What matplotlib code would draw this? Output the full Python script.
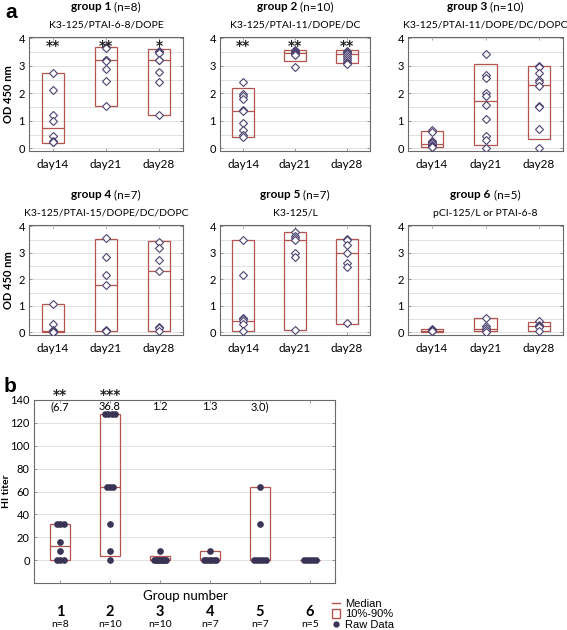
"""
plot.py
-------
OD 450 nm per group/day (panel a) and HI titer per group (panel b).
"""

import matplotlib
matplotlib.use("Agg")
import matplotlib.pyplot as plt
from matplotlib.lines import Line2D
from matplotlib.patches import Rectangle
import matplotlib.transforms as mtransforms

plt.rcParams["font.family"] = ["Lato", "DejaVu Sans"]

# ---------------------------------------------------------------- panel a data
days = ["day14", "day21", "day28"]
group_labels = ["group 1", "group 2", "group 3", "group 4", "group 5", "group 6"]
group_n = [8, 10, 10, 7, 7, 5]
group_subtitles = [
    "K3-125/PTAI-6-8/DOPE",
    "K3-125/PTAI-11/DOPE/DC",
    "K3-125/PTAI-11/DOPE/DC/DOPC",
    "K3-125/PTAI-15/DOPE/DC/DOPC",
    "K3-125/L",
    "pCI-125/L or PTAI-6-8",
]

od_day14 = [
    [2.74, 2.12, 1.22, 1.0, 0.43, 0.27, 0.24, 0.22],
    [2.4, 1.97, 1.92, 1.78, 1.38, 1.35, 0.92, 0.68, 0.47, 0.4],
    [0.65, 0.58, 0.25, 0.22, 0.18, 0.12, 0.1, 0.08, 0.06, 0.05],
    [1.06, 0.32, 0.08, 0.05, 0.03, 0.02, 0.02],
    [3.5, 2.18, 0.56, 0.5, 0.42, 0.3, 0.05],
    [0.12, 0.09, 0.07, 0.05, 0.04],
]
od_day21 = [
    [3.68, 3.64, 3.22, 3.2, 3.18, 2.9, 2.45, 1.55],
    [3.58, 3.55, 3.52, 3.5, 3.48, 3.47, 3.45, 3.42, 3.4, 2.95],
    [3.42, 2.67, 2.55, 2.0, 1.9, 1.57, 1.08, 0.45, 0.3, 0.0],
    [3.55, 2.85, 2.15, 1.8, 0.08, 0.05, 0.04],
    [3.78, 3.62, 3.55, 3.48, 3.0, 2.85, 0.1],
    [0.55, 0.25, 0.15, 0.08, 0.02],
]
od_day28 = [
    [3.55, 3.5, 3.48, 3.22, 3.2, 2.78, 2.4, 1.22],
    [3.55, 3.5, 3.45, 3.42, 3.35, 3.3, 3.22, 3.15, 3.1, 3.05],
    [3.0, 2.95, 2.75, 2.5, 2.4, 2.25, 1.52, 1.5, 0.7, 0.02],
    [3.42, 3.18, 2.72, 2.33, 0.22, 0.15, 0.05],
    [3.52, 3.48, 3.3, 3.0, 2.6, 2.45, 0.35],
    [0.42, 0.28, 0.25, 0.22, 0.05],
]
# 10%, 90% and median per group, in order day14, day21, day28
od_p10 = [
    [0.2, 1.55, 1.2],
    [0.42, 3.17, 3.12],
    [0.04, 0.13, 0.35],
    [0.03, 0.04, 0.05],
    [0.04, 0.08, 0.33],
    [0.03, 0.04, 0.05],
]
od_p90 = [
    [2.74, 3.7, 3.6],
    [2.2, 3.58, 3.56],
    [0.62, 3.05, 3.0],
    [1.06, 3.54, 3.44],
    [3.5, 3.8, 3.52],
    [0.11, 0.54, 0.4],
]
od_median = [
    [0.72, 3.21, 3.21],
    [1.35, 3.47, 3.42],
    [0.15, 1.72, 2.3],
    [0.05, 1.8, 2.33],
    [0.43, 3.48, 3.0],
    [0.06, 0.12, 0.24],
]
od_stars = [
    ["**", "**", "*"],
    ["**", "**", "**"],
    ["", "", ""],
    ["", "", ""],
    ["", "", ""],
    ["", "", ""],
]

# ---------------------------------------------------------------- panel b data
hi_groups = [1, 2, 3, 4, 5, 6]
hi_n = [8, 10, 10, 7, 7, 5]
hi_raw = [
    [32, 32, 32, 16, 8, 0, 0, 0],
    [128, 128, 128, 128, 64, 64, 64, 32, 8, 0],
    [8, 0, 0, 0, 0, 0, 0, 0, 0, 0],
    [8, 0, 0, 0, 0, 0, 0],
    [64, 32, 0, 0, 0, 0, 0],
    [0, 0, 0, 0, 0],
]
hi_p10 = [0, 4, 0, 0, 0, 0]
hi_p90 = [32, 128, 4, 8, 64, 0]
hi_median = [12, 64, 0, 0, 0, 0]
hi_means = ["(6.7", "36.8", "1.2", "1.3", "3.0)"]
hi_stars = ["**", "***", "", "", "", ""]

BOX_COLOR = "#b5534f"
POINT_COLOR = "#3b3356"
DIAMOND_EDGE = "#4d4270"
GRID_COLOR = "#dcdcdc"
SPINE_COLOR = "#6a6a6a"
STAR_COLOR = "#222222"


def spread(values, step, max_width):
    """Horizontal offsets so that equal values sit side by side."""
    offsets = []
    seen = {}
    counts = {v: values.count(v) for v in values}
    for v in values:
        m = counts[v]
        k = seen.get(v, 0)
        seen[v] = k + 1
        s = step if m < 2 else min(step, max_width / (m - 1))
        offsets.append((k - (m - 1) / 2) * s)
    return offsets


def style_axes(ax):
    for sp in ax.spines.values():
        sp.set_color(SPINE_COLOR)
        sp.set_linewidth(0.8)
    ax.tick_params(axis="both", direction="in", length=2, width=0.6,
                   color="#888888", labelsize=8, pad=3, top=True, right=True)
    ax.set_axisbelow(True)


fig = plt.figure(figsize=(5.67, 6.3), dpi=100)

W, H = 567.0, 630.0
col_x = [(29, 154), (220, 150), (408, 155)]
row_y = [(37, 151), (225, 335)]

renderer = fig.canvas.get_renderer()

for g in range(6):
    r, c = divmod(g, 3)
    x0, w = col_x[c]
    top, bot = row_y[r]
    ax = fig.add_axes([x0 / W, 1 - bot / H, w / W, (bot - top) / H])
    style_axes(ax)
    ax.set_xlim(0.55, 3.45)
    ax.set_ylim(-0.1, 4.05)
    ax.set_yticks([0, 1, 2, 3, 4])
    ax.set_yticks([0.5, 1.5, 2.5, 3.5], minor=True)
    ax.tick_params(which="minor", length=0)
    ax.grid(True, which="both", axis="y", color=GRID_COLOR, lw=0.6)
    ax.set_xticks([1, 2, 3])
    ax.set_xticklabels(days, fontsize=8.5)
    ax.tick_params(axis="x", pad=6)

    day_values = [od_day14[g], od_day21[g], od_day28[g]]
    for d in range(3):
        xpos = d + 1
        ax.bar(xpos, od_p90[g][d] - od_p10[g][d], bottom=od_p10[g][d],
               width=0.42, fill=False, edgecolor=BOX_COLOR, lw=0.9, zorder=2)
        ax.hlines(od_median[g][d], xpos - 0.21, xpos + 0.21,
                  color=BOX_COLOR, lw=0.9, zorder=2)
        vals = day_values[d]
        ax.plot([xpos] * len(vals), vals, ls="none", marker="D", ms=3.8,
                mfc="white", mec=DIAMOND_EDGE, mew=0.8, zorder=3)
        if od_stars[g][d]:
            ax.text(xpos, 3.74, od_stars[g][d], ha="center", va="center",
                    fontsize=10, fontweight="bold", family="DejaVu Sans",
                    color=STAR_COLOR)

    if c == 0:
        ax.set_ylabel("OD 450 nm", fontsize=8, fontweight="bold")
        ax.yaxis.set_label_coords(-0.095, 0.5)

    # titles: bold group label + normal (n=..), centred over the axes
    cx = (x0 + w / 2) / W
    ty = 1 - (top - 30) / H
    t1 = fig.text(0, ty, group_labels[g], fontsize=8.5, fontweight="bold",
                  ha="left", va="center")
    t2 = fig.text(0, ty, f" (n={group_n[g]})", fontsize=8.5,
                  ha="left", va="center")
    w1 = t1.get_window_extent(renderer).width / W
    w2 = t2.get_window_extent(renderer).width / W
    t1.set_x(cx - (w1 + w2) / 2)
    t2.set_x(cx - (w1 + w2) / 2 + w1)
    fig.text(cx, 1 - (top - 12) / H, group_subtitles[g], fontsize=7.5,
             ha="center", va="center")

fig.text(5 / W, 1 - 12 / H, "a", fontsize=15, fontweight="bold",
         family="Liberation Sans", ha="left", va="center")

# ---------------------------------------------------------------- panel b
axb = fig.add_axes([34 / W, 1 - 583 / H, 301 / W, 183 / H])
style_axes(axb)
axb.set_xlim(0.48, 6.5)
axb.set_ylim(-20, 140)
axb.set_yticks([0, 20, 40, 60, 80, 100, 120, 140])
axb.grid(True, axis="y", color=GRID_COLOR, lw=0.6)
axb.set_xticks(hi_groups)
axb.set_xticklabels([])
axb.set_ylabel("HI titer", fontsize=7.5, fontweight="bold")
axb.yaxis.set_label_coords(-0.075, 0.5)

for i, grp in enumerate(hi_groups):
    axb.bar(grp, hi_p90[i] - hi_p10[i], bottom=hi_p10[i], width=0.4,
            fill=False, edgecolor=BOX_COLOR, lw=0.9, zorder=2)
    axb.hlines(hi_median[i], grp - 0.2, grp + 0.2, color=BOX_COLOR,
               lw=0.9, zorder=2)
    offs = spread(hi_raw[i], 0.07, 0.24)
    axb.plot([grp + o for o in offs], hi_raw[i], ls="none", marker="o",
             ms=3.8, color=POINT_COLOR, zorder=3)
    if hi_stars[i]:
        axb.text(grp, 1.03, hi_stars[i], transform=axb.get_xaxis_transform(),
                 ha="center", va="center", fontsize=10, fontweight="bold",
                 family="DejaVu Sans", color=STAR_COLOR)
    if i < len(hi_means):
        axb.text(grp, 0.962, hi_means[i], transform=axb.get_xaxis_transform(),
                 ha="center", va="center", fontsize=8)

trans = mtransforms.blended_transform_factory(axb.transData, axb.transAxes)
axb.text(3.5, -0.07, "Group number", transform=trans, ha="center",
         va="center", fontsize=9.5)
for i, grp in enumerate(hi_groups):
    axb.text(grp, -0.16, str(grp), transform=trans, ha="center",
             va="center", fontsize=10.5, fontweight="bold")
    axb.text(grp, -0.228, f"n={hi_n[i]}", transform=trans, ha="center",
             va="center", fontsize=7.5)

fig.text(4 / W, 1 - 386 / H, "b", fontsize=15, fontweight="bold",
         family="Liberation Sans", ha="left", va="center")

handles = [
    Line2D([], [], color=BOX_COLOR, lw=1.0),
    Rectangle((0, 0), 1, 1, fill=False, edgecolor=BOX_COLOR, lw=1.0),
    Line2D([], [], ls="none", marker="o", ms=3.5, color=POINT_COLOR),
]
fig.legend(handles, ["Median", "10%-90%", "Raw Data"],
           loc="upper left", bbox_to_anchor=(326 / W, 1 - 593 / H),
           frameon=False, handlelength=0.8, handleheight=0.8,
           handletextpad=0.4, labelspacing=0.05, borderpad=0,
           prop={"family": "Liberation Sans", "size": 8})

fig.savefig("out.png", dpi=100)
